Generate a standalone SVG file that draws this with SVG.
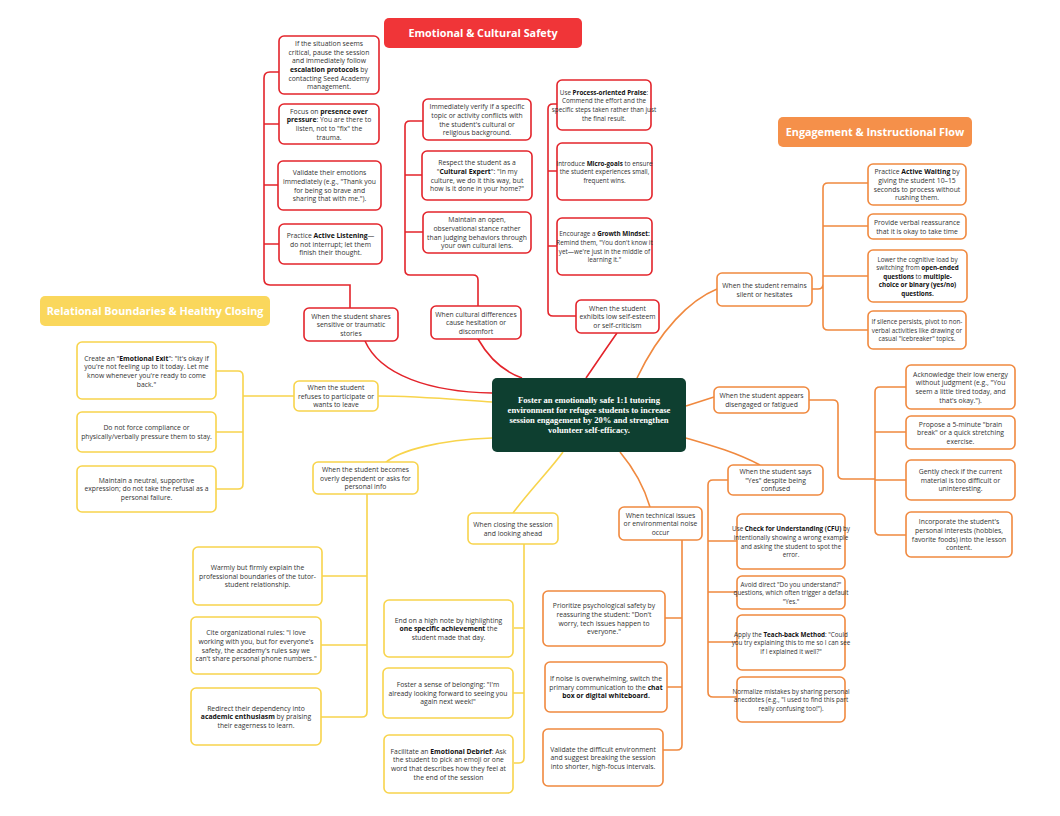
<svg xmlns="http://www.w3.org/2000/svg" width="1060" height="816" viewBox="0 0 1060 816">
<style>
.bx{fill:#fff;stroke-width:1.6}
.r{stroke:#E3242B}.o{stroke:#F0893F}.y{stroke:#F8D44C}
.t{font-family:"Open Sans","Liberation Sans",sans-serif;font-size:6.8px;fill:#333;text-anchor:middle}
#r-r1 .t,#r-r2 .t,#r-r3 .t,#o-y1 .t,#o-y2 .t,#o-y3 .t,#o-y4 .t,#o-s4 .t,#o-s3 .t{font-size:6.3px}
.b{font-weight:bold;fill:#111}
.ttl{font-family:"Open Sans","Liberation Sans",sans-serif;font-size:10.8px;font-weight:bold;fill:#fff;text-anchor:middle}
.ct{font-family:"Liberation Serif",serif;font-size:8.6px;font-weight:bold;fill:#fff;text-anchor:middle}
.cr{fill:none;stroke:#E3242B;stroke-width:1.6}.co{fill:none;stroke:#F0893F;stroke-width:1.6}.cy{fill:none;stroke:#F8D44C;stroke-width:1.6}
</style>
<rect width="1060" height="816" fill="#fff"/>
<g id="connectors">
<path class="cr" d="M350 308V285H270Q264 285 264 279V78Q264 72 270 72H279M264 124H279M264 185H278M264 244H279"/>
<path class="cr" d="M478 306V280Q478 275 473 275H410Q405 275 405 270V126Q405 121 410 121H423M405 175H422M405 232H423"/>
<path class="cr" d="M576 316H553Q548 316 548 311V109Q548 104 553 104H557M548 171H557M548 246H557"/>
<path class="cr" d="M365 341C380 375 430 392 492 393M478 339C490 360 505 372 522 378M617 333C605 350 595 365 586 378"/>
<path class="co" d="M637 378C660 330 690 300 717 289M812 289H818Q823 289 823 284V188Q823 183 828 183H868M823 226H868M823 276H868M823 284V325Q823 330 828 330H868"/>
<path class="co" d="M686 406L714 397M809 400H833Q838 400 838 405V474Q838 479 843 479H875M906 387H880Q875 387 875 392V530Q875 535 880 535H906M875 432H906M875 480H906"/>
<path class="co" d="M686 438C710 445 735 452 760 465M728 480H713Q708 480 708 485V692Q708 697 713 697H737M708 541H737M708 592H737M708 642H737"/>
<path class="co" d="M620 452C635 470 645 490 650 507M682 540V745Q682 750 677 750H663M665 618H682M667 687H682"/>
<path class="cy" d="M377 396C420 396 460 400 492 402M294 396H243M216 371H238Q243 371 243 376V484Q243 489 238 489H216M243 432H216"/>
<path class="cy" d="M385 463C400 450 440 440 492 438M322 576H367M321 645H367M321 717H362Q367 717 367 712V494"/>
<path class="cy" d="M513 513C530 490 550 470 563 452M524 544V758Q524 763 519 763H514M514 628H524M513 693H524"/>
</g>
<g id="title-red"><rect x="384" y="18" width="198" height="30" rx="5" fill="#F03538"/><text class="ttl" x="483" y="37">Emotional &amp; Cultural Safety</text></g>
<g id="title-orange"><rect x="778" y="117" width="194" height="30" rx="5" fill="#F5904A"/><text class="ttl" x="875" y="136">Engagement &amp; Instructional Flow</text></g>
<g id="title-yellow"><rect x="40" y="296" width="230" height="30" rx="5" fill="#FAD75C"/><text class="ttl" x="155" y="315">Relational Boundaries &amp; Healthy Closing</text></g>
<g id="center"><rect x="492" y="378" width="194" height="74" rx="5" fill="#0E3F30"/>
<text class="ct" x="589" y="403">Foster an emotionally safe 1:1 tutoring</text><text class="ct" x="589" y="413">environment for refugee students to increase</text><text class="ct" x="589" y="423">session engagement by 20% and strengthen</text><text class="ct" x="589" y="433">volunteer self-efficacy.</text></g>

<g id="r-l1"><rect class="bx r" x="279" y="36" width="100" height="58" rx="5"/><text class="t" x="329" y="46.2">If the situation seems</text><text class="t" x="329" y="54.8">critical, pause the session</text><text class="t" x="329" y="63.4">and immediately follow</text><text class="t" x="329" y="72"><tspan class="b">escalation protocols</tspan> by</text><text class="t" x="329" y="80.6">contacting Seed Academy</text><text class="t" x="329" y="89.2">management.</text></g>
<g id="r-l2"><rect class="bx r" x="279" y="104" width="100" height="40" rx="5"/><text class="t" x="329" y="113.8">Focus on <tspan class="b">presence over</tspan></text><text class="t" x="329" y="122.4"><tspan class="b">pressure</tspan>: You are there to</text><text class="t" x="329" y="131">listen, not to "fix" the</text><text class="t" x="329" y="139.6">trauma.</text></g>
<g id="r-l3"><rect class="bx r" x="278" y="161" width="103" height="49" rx="5"/><text class="t" x="329.5" y="175.3">Validate their emotions</text><text class="t" x="329.5" y="183.9">immediately (e.g., "Thank you</text><text class="t" x="329.5" y="192.5">for being so brave and</text><text class="t" x="329.5" y="201.1">sharing that with me.").</text></g>
<g id="r-l4"><rect class="bx r" x="279" y="224" width="103" height="40" rx="5"/><text class="t" x="330.5" y="238.1">Practice <tspan class="b">Active Listening</tspan>—</text><text class="t" x="330.5" y="246.7">do not interrupt; let them</text><text class="t" x="330.5" y="255.3">finish their thought.</text></g>
<g id="r-b1"><rect class="bx r" x="304" y="308" width="94" height="33" rx="5"/><text class="t" x="351" y="318.6">When the student shares</text><text class="t" x="351" y="327.2">sensitive or traumatic</text><text class="t" x="351" y="335.8">stories</text></g>

<g id="r-m1"><rect class="bx r" x="423" y="99" width="108" height="41" rx="5"/><text class="t" x="477" y="109.3">Immediately verify if a specific</text><text class="t" x="477" y="117.9">topic or activity conflicts with</text><text class="t" x="477" y="126.5">the student's cultural or</text><text class="t" x="477" y="135.1">religious background.</text></g>
<g id="r-m2"><rect class="bx r" x="422" y="151" width="110" height="49" rx="5"/><text class="t" x="477" y="165.3">Respect the student as a</text><text class="t" x="477" y="173.9">"<tspan class="b">Cultural Expert</tspan>": "In my</text><text class="t" x="477" y="182.5">culture, we do it this way, but</text><text class="t" x="477" y="191.1">how is it done in your home?"</text></g>
<g id="r-m3"><rect class="bx r" x="423" y="212" width="108" height="41" rx="5"/><text class="t" x="477" y="222.3">Maintain an open,</text><text class="t" x="477" y="230.9">observational stance rather</text><text class="t" x="477" y="239.5">than judging behaviors through</text><text class="t" x="477" y="248.1">your own cultural lens.</text></g>
<g id="r-b2"><rect class="bx r" x="431" y="306" width="90" height="33" rx="5"/><text class="t" x="476" y="316.6">When cultural differences</text><text class="t" x="476" y="325.2">cause hesitation or</text><text class="t" x="476" y="333.8">discomfort</text></g>

<g id="r-r1"><rect class="bx r" x="557" y="80" width="94" height="50" rx="5"/><text class="t" x="604" y="94.8">Use <tspan class="b">Process-oriented Praise</tspan>:</text><text class="t" x="604" y="103.4">Commend the effort and the</text><text class="t" x="604" y="112">specific steps taken rather than just</text><text class="t" x="604" y="120.6">the final result.</text></g>
<g id="r-r2"><rect class="bx r" x="557" y="143" width="95" height="57" rx="5"/><text class="t" x="604.5" y="165.6">Introduce <tspan class="b">Micro-goals</tspan> to ensure</text><text class="t" x="604.5" y="174.2">the student experiences small,</text><text class="t" x="604.5" y="182.8">frequent wins.</text></g>
<g id="r-r3"><rect class="bx r" x="557" y="218" width="95" height="57" rx="5"/><text class="t" x="604.5" y="236.3">Encourage a <tspan class="b">Growth Mindset:</tspan></text><text class="t" x="604.5" y="244.9">Remind them, "You don't know it</text><text class="t" x="604.5" y="253.5">yet—we're just in the middle of</text><text class="t" x="604.5" y="262.1">learning it."</text></g>
<g id="r-b3"><rect class="bx r" x="576" y="300" width="83" height="33" rx="5"/><text class="t" x="617.5" y="310.6">When the student</text><text class="t" x="617.5" y="319.2">exhibits low self-esteem</text><text class="t" x="617.5" y="327.8">or self-criticism</text></g>

<g id="o-b1"><rect class="bx o" x="717" y="273" width="95" height="33" rx="5"/><text class="t" x="764.5" y="287.9">When the student remains</text><text class="t" x="764.5" y="296.5">silent or hesitates</text></g>
<g id="o-s1"><rect class="bx o" x="868" y="164" width="98" height="41" rx="5"/><text class="t" x="917" y="174.3">Practice <tspan class="b">Active Waiting</tspan> by</text><text class="t" x="917" y="182.9">giving the student 10–15</text><text class="t" x="917" y="191.5">seconds to process without</text><text class="t" x="917" y="200.1">rushing them.</text></g>
<g id="o-s2"><rect class="bx o" x="868" y="214" width="98" height="25" rx="5"/><text class="t" x="917" y="224.9">Provide verbal reassurance</text><text class="t" x="917" y="233.5">that it is okay to take time</text></g>
<g id="o-s3"><rect class="bx o" x="868" y="250" width="99" height="52" rx="5"/><text class="t" x="917.5" y="261.5">Lower the cognitive load by</text><text class="t" x="917.5" y="270.1">switching from <tspan class="b">open-ended</tspan></text><text class="t" x="917.5" y="278.7"><tspan class="b">questions</tspan> to <tspan class="b">multiple-</tspan></text><text class="t b" x="917.5" y="287.3">choice or binary (yes/no)</text><text class="t b" x="917.5" y="295.9">questions.</text></g>
<g id="o-s4"><rect class="bx o" x="868" y="311" width="98" height="38" rx="5"/><text class="t" x="917" y="324.1">If silence persists, pivot to non-</text><text class="t" x="917" y="332.7">verbal activities like drawing or</text><text class="t" x="917" y="341.3">casual "icebreaker" topics.</text></g>

<g id="o-b2"><rect class="bx o" x="714" y="387" width="95" height="26" rx="5"/><text class="t" x="761.5" y="398.4">When the student appears</text><text class="t" x="761.5" y="407">disengaged or fatigued</text></g>
<g id="o-d1"><rect class="bx o" x="906" y="365" width="109" height="44" rx="5"/><text class="t" x="960.5" y="376.8">Acknowledge their low energy</text><text class="t" x="960.5" y="385.4">without judgment (e.g., "You</text><text class="t" x="960.5" y="394">seem a little tired today, and</text><text class="t" x="960.5" y="402.6">that's okay.").</text></g>
<g id="o-d2"><rect class="bx o" x="906" y="416" width="109" height="33" rx="5"/><text class="t" x="960.5" y="426.6">Propose a 5-minute "brain</text><text class="t" x="960.5" y="435.2">break" or a quick stretching</text><text class="t" x="960.5" y="443.8">exercise.</text></g>
<g id="o-d3"><rect class="bx o" x="906" y="460" width="109" height="40" rx="5"/><text class="t" x="960.5" y="474.1">Gently check if the current</text><text class="t" x="960.5" y="482.7">material is too difficult or</text><text class="t" x="960.5" y="491.3">uninteresting.</text></g>
<g id="o-d4"><rect class="bx o" x="906" y="512" width="106" height="45" rx="5"/><text class="t" x="959" y="524.3">Incorporate the student's</text><text class="t" x="959" y="532.9">personal interests (hobbies,</text><text class="t" x="959" y="541.5">favorite foods) into the lesson</text><text class="t" x="959" y="550.1">content.</text></g>

<g id="o-b3"><rect class="bx o" x="728" y="465" width="95" height="30" rx="5"/><text class="t" x="775.5" y="474.1">When the student says</text><text class="t" x="775.5" y="482.7">"Yes" despite being</text><text class="t" x="775.5" y="491.3">confused</text></g>
<g id="o-y1"><rect class="bx o" x="737" y="514" width="108" height="55" rx="5"/><text class="t" x="791" y="531.3">Use <tspan class="b">Check for Understanding (CFU)</tspan> by</text><text class="t" x="791" y="539.9">intentionally showing a wrong example</text><text class="t" x="791" y="548.5">and asking the student to spot the</text><text class="t" x="791" y="557.1">error.</text></g>
<g id="o-y2"><rect class="bx o" x="737" y="576" width="108" height="33" rx="5"/><text class="t" x="791" y="586.6">Avoid direct "Do you understand?"</text><text class="t" x="791" y="595.2">questions, which often trigger a default</text><text class="t" x="791" y="603.8">"Yes."</text></g>
<g id="o-y3"><rect class="bx o" x="737" y="615" width="108" height="55" rx="5"/><text class="t" x="791" y="636.6">Apply the <tspan class="b">Teach-back Method</tspan>: "Could</text><text class="t" x="791" y="645.2">you try explaining this to me so I can see</text><text class="t" x="791" y="653.8">if I explained it well?"</text></g>
<g id="o-y4"><rect class="bx o" x="737" y="677" width="108" height="45" rx="5"/><text class="t" x="791" y="693.6">Normalize mistakes by sharing personal</text><text class="t" x="791" y="702.2">anecdotes (e.g., "I used to find this part</text><text class="t" x="791" y="710.8">really confusing too!").</text></g>

<g id="o-b4"><rect class="bx o" x="619" y="507" width="83" height="33" rx="5"/><text class="t" x="660.5" y="517.6">When technical issues</text><text class="t" x="660.5" y="526.2">or environmental noise</text><text class="t" x="660.5" y="534.8">occur</text></g>
<g id="o-t1"><rect class="bx o" x="543" y="591" width="122" height="55" rx="5"/><text class="t" x="604" y="608.3">Prioritize psychological safety by</text><text class="t" x="604" y="616.9">reassuring the student: "Don't</text><text class="t" x="604" y="625.5">worry, tech issues happen to</text><text class="t" x="604" y="634.1">everyone."</text></g>
<g id="o-t2"><rect class="bx o" x="545" y="662" width="122" height="50" rx="5"/><text class="t" x="606" y="681.1">If noise is overwhelming, switch the</text><text class="t" x="606" y="689.7">primary communication to the <tspan class="b">chat</tspan></text><text class="t b" x="606" y="698.3">box or digital whiteboard.</text></g>
<g id="o-t3"><rect class="bx o" x="543" y="729" width="120" height="57" rx="5"/><text class="t" x="603" y="751.6">Validate the difficult environment</text><text class="t" x="603" y="760.2">and suggest breaking the session</text><text class="t" x="603" y="768.8">into shorter, high-focus intervals.</text></g>

<g id="y-b1"><rect class="bx y" x="294" y="381" width="84" height="30" rx="5"/><text class="t" x="336" y="390.1">When the student</text><text class="t" x="336" y="398.7">refuses to participate or</text><text class="t" x="336" y="407.3">wants to leave</text></g>
<g id="y-f1"><rect class="bx y" x="77" y="342" width="139" height="57" rx="5"/><text class="t" x="146.5" y="360.8">Create an "<tspan class="b">Emotional Exit</tspan>": "It's okay if</text><text class="t" x="146.5" y="369.4">you're not feeling up to it today. Let me</text><text class="t" x="146.5" y="378">know whenever you're ready to come</text><text class="t" x="146.5" y="386.6">back."</text></g>
<g id="y-f2"><rect class="bx y" x="77" y="412" width="139" height="40" rx="5"/><text class="t" x="146.5" y="429.9">Do not force compliance or</text><text class="t" x="146.5" y="438.5">physically/verbally pressure them to stay.</text></g>
<g id="y-f3"><rect class="bx y" x="77" y="466" width="139" height="46" rx="5"/><text class="t" x="146.5" y="482.6">Maintain a neutral, supportive</text><text class="t" x="146.5" y="491.2">expression; do not take the refusal as a</text><text class="t" x="146.5" y="499.8">personal failure.</text></g>

<g id="y-b2"><rect class="bx y" x="313" y="462" width="105" height="32" rx="5"/><text class="t" x="365.5" y="472.1">When the student becomes</text><text class="t" x="365.5" y="480.7">overly dependent or asks for</text><text class="t" x="365.5" y="489.3">personal info</text></g>
<g id="y-p1"><rect class="bx y" x="193" y="547" width="129" height="58" rx="5"/><text class="t" x="257.5" y="570.1">Warmly but firmly explain the</text><text class="t" x="257.5" y="578.7">professional boundaries of the tutor-</text><text class="t" x="257.5" y="587.3">student relationship.</text></g>
<g id="y-p2"><rect class="bx y" x="191" y="617" width="130" height="57" rx="5"/><text class="t" x="256" y="635.3">Cite organizational rules: "I love</text><text class="t" x="256" y="643.9">working with you, but for everyone's</text><text class="t" x="256" y="652.5">safety, the academy's rules say we</text><text class="t" x="256" y="661.1">can't share personal phone numbers."</text></g>
<g id="y-p3"><rect class="bx y" x="191" y="688" width="130" height="57" rx="5"/><text class="t" x="256" y="710.6">Redirect their dependency into</text><text class="t" x="256" y="719.2"><tspan class="b">academic enthusiasm</tspan> by praising</text><text class="t" x="256" y="727.8">their eagerness to learn.</text></g>

<g id="y-b3"><rect class="bx y" x="468" y="513" width="90" height="31" rx="5"/><text class="t" x="513" y="526.9">When closing the session</text><text class="t" x="513" y="535.5">and looking ahead</text></g>
<g id="y-c1"><rect class="bx y" x="384" y="600" width="129" height="57" rx="5"/><text class="t" x="448.5" y="622.6">End on a high note by highlighting</text><text class="t" x="448.5" y="631.2"><tspan class="b">one specific achievement</tspan> the</text><text class="t" x="448.5" y="639.8">student made that day.</text></g>
<g id="y-c2"><rect class="bx y" x="383" y="668" width="130" height="50" rx="5"/><text class="t" x="448" y="687.1">Foster a sense of belonging: "I'm</text><text class="t" x="448" y="695.7">already looking forward to seeing you</text><text class="t" x="448" y="704.3">again next week!"</text></g>
<g id="y-c3"><rect class="bx y" x="384" y="735" width="129" height="58" rx="5"/><text class="t" x="448.5" y="753.8">Facilitate an <tspan class="b">Emotional Debrief</tspan>: Ask</text><text class="t" x="448.5" y="762.4">the student to pick an emoji or one</text><text class="t" x="448.5" y="771">word that describes how they feel at</text><text class="t" x="448.5" y="779.6">the end of the session</text></g>
</svg>
